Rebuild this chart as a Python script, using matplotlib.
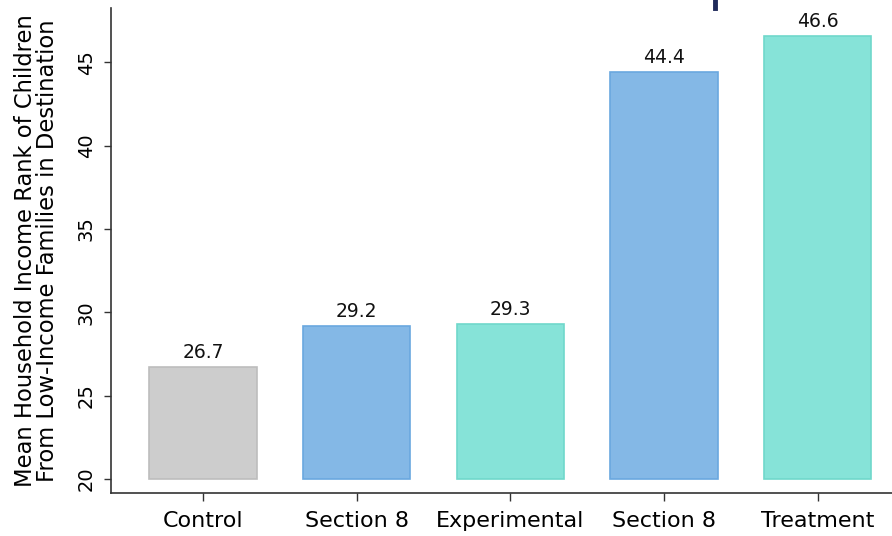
import matplotlib
matplotlib.use("Agg")
import matplotlib.pyplot as plt
from matplotlib.lines import Line2D

categories = ["Control", "Section 8", "Experimental", "Section 8", "Treatment"]
values = [26.7, 29.2, 29.3, 44.4, 46.6]
face_colors = ["#CDCDCD", "#84B8E6", "#86E3D8", "#84B8E6", "#86E3D8"]
edge_colors = ["#BDBDBD", "#6AA8DF", "#70D8CB", "#6AA8DF", "#70D8CB"]
y_ticks = [20, 25, 30, 35, 40, 45]
baseline = 20

plt.rcParams["font.family"] = ["DejaVu Sans"]

fig = plt.figure(figsize=(8.92, 5.36), dpi=100)
ax = fig.add_axes([111 / 892, 1 - 493 / 536, 1 - 111 / 892, (493 - 8) / 536])

x = range(len(categories))
heights = [v - baseline for v in values]
ax.bar(x, heights, bottom=baseline, width=0.7, color=face_colors,
       edgecolor=edge_colors, linewidth=1.2)

for xi, v in zip(x, values):
    ax.text(xi, v + 0.3, f"{v:.1f}", ha="center", va="bottom", fontsize=13.5,
            color="#111111")

ax.set_xlim(-0.6, 4.485)
ax.set_ylim(19.16, 48.25)
ax.set_xticks(list(x))
ax.set_xticklabels(categories, fontsize=16)
ax.set_yticks(y_ticks)
ax.set_yticklabels([str(t) for t in y_ticks], rotation=90, va="center", fontsize=14)
ax.tick_params(axis="x", length=6, width=1, color="#333333", pad=7)
ax.tick_params(axis="y", length=5, width=1, color="#333333", pad=6)

ax.set_ylabel("Mean Household Income Rank of Children\nFrom Low-Income Families in Destination",
              fontsize=16.3, linespacing=0.95)
ax.yaxis.set_label_coords(-0.067, 0.5)

for side in ("top", "right"):
    ax.spines[side].set_visible(False)
for side in ("left", "bottom"):
    ax.spines[side].set_color("#333333")
    ax.spines[side].set_linewidth(1.2)

# small navy marker at the top edge
fig.add_artist(Line2D([715 / 892, 715 / 892], [1.0, 1 - 8 / 536],
                      transform=fig.transFigure, color="#1F2A5A", linewidth=3.5))

fig.savefig("out.png", dpi=100)
